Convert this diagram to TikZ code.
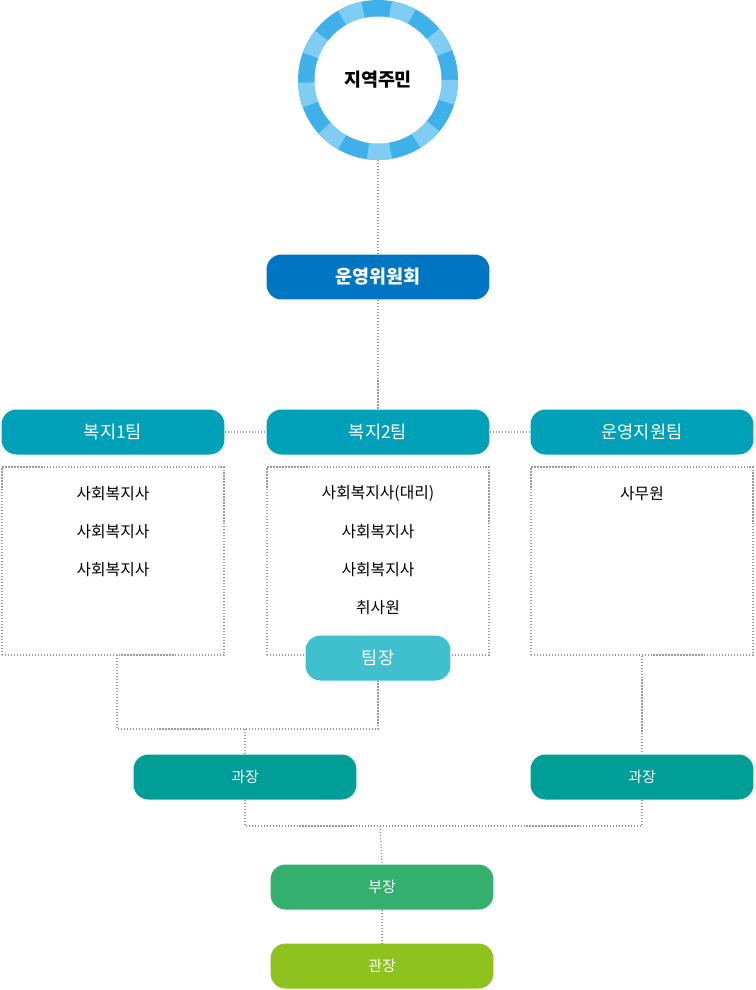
\documentclass[tikz,border=0pt]{standalone}
\usepackage{fontspec}
\setmainfont{Noto Sans CJK KR}
\usetikzlibrary{positioning, backgrounds}
\definecolor{ringblue}{HTML}{3FB0EA}
\definecolor{ringlight}{HTML}{7FCDF2}
\definecolor{boardblue}{HTML}{0075C2}
\definecolor{teamteal}{HTML}{00A0B8}
\definecolor{leadteal}{HTML}{40BFCF}
\definecolor{chiefgreen}{HTML}{009E96}
\definecolor{deputygreen}{HTML}{34B06E}
\definecolor{headgreen}{HTML}{8EC21F}

\begin{document}
\begin{tikzpicture}[
            x=0.02cm, y=-0.02cm,
            pill/.style={rounded corners=0.3cm, minimum width=4.46cm,
                minimum height=0.9cm, text=white, inner sep=0pt, font=\fontsize{10}{12}\selectfont},
            small pill/.style={pill, font=\fontsize{8.5}{10}\selectfont},
            link/.style={draw=gray!80, densely dotted, line width=0.7pt},
            memberbox/.style={link, minimum width=4.44cm, minimum height=3.76cm},
            member/.style={font=\fontsize{9}{11}\selectfont}
        ]
        \useasboundingbox (0,0) rectangle (755,990);

        % residents
        \fill[ringblue] (378,80) circle (80);
        \foreach \a in {0,40,...,320}
            \fill[ringlight] (378,80) -- ++(\a:80) arc (\a:\a+18:80) -- cycle;
        \node[circle, fill=white, minimum size=2.54cm, inner sep=0pt,
            font=\fontsize{10.5}{12}\selectfont\bfseries] (res) at (378,80) {지역주민};

        % board
        \node[pill, fill=boardblue, font=\fontsize{10.5}{12}\selectfont\bfseries] (board) at (378,277) {운영위원회};

        % teams
        \node[pill, fill=teamteal] (team1) at (113,432) {복지1팀};
        \node[pill, fill=teamteal] (team2) at (378,432) {복지2팀};
        \node[pill, fill=teamteal] (team3) at (642,432) {운영지원팀};

        \node[memberbox] (box1) at (113,561) {};
        \node[memberbox] (box2) at (378,561) {};
        \node[memberbox] (box3) at (642,561) {};

        \node[member] at (113,494) {사회복지사};
        \node[member] at (113,532) {사회복지사};
        \node[member] at (113,570) {사회복지사};
        \node[member] at (378,494) {사회복지사(대리)};
        \node[member] at (378,532) {사회복지사};
        \node[member] at (378,570) {사회복지사};
        \node[member] at (378,608) {취사원};
        \node[member] at (642,494) {사무원};

        \node[pill, fill=leadteal, minimum width=2.9cm] (lead) at (378,658) {팀장};

        % managers
        \node[small pill, fill=chiefgreen] (chief1) at (245,777) {과장};
        \node[small pill, fill=chiefgreen] (chief2) at (642,777) {과장};
        \node[small pill, fill=deputygreen] (deputy) at (382,887) {부장};
        \node[small pill, fill=headgreen] (head) at (382,966) {관장};

        \coordinate (j1) at (245,729);
        \coordinate (j2) at (380,826);

        \begin{scope}[on background layer]
            \path[link] (res.south |- 0,160) -- (board.north);
            \path[link] (board) -- (team2);
            \path[link] (team1) -- (team2);
            \path[link] (team2) -- (team3);
            \path[link] (117,655) |- (j1) -| (lead.south);
            \path[link] (j1) -- (chief1.north);
            \path[link] (box3.south) -- (chief2.north);
            \path[link] (chief1.south) |- (j2) -| (chief2.south);
            \path[link] (j2) -- (deputy.north);
            \path[link] (deputy) -- (head);
        \end{scope}

    \end{tikzpicture}
\end{document}
